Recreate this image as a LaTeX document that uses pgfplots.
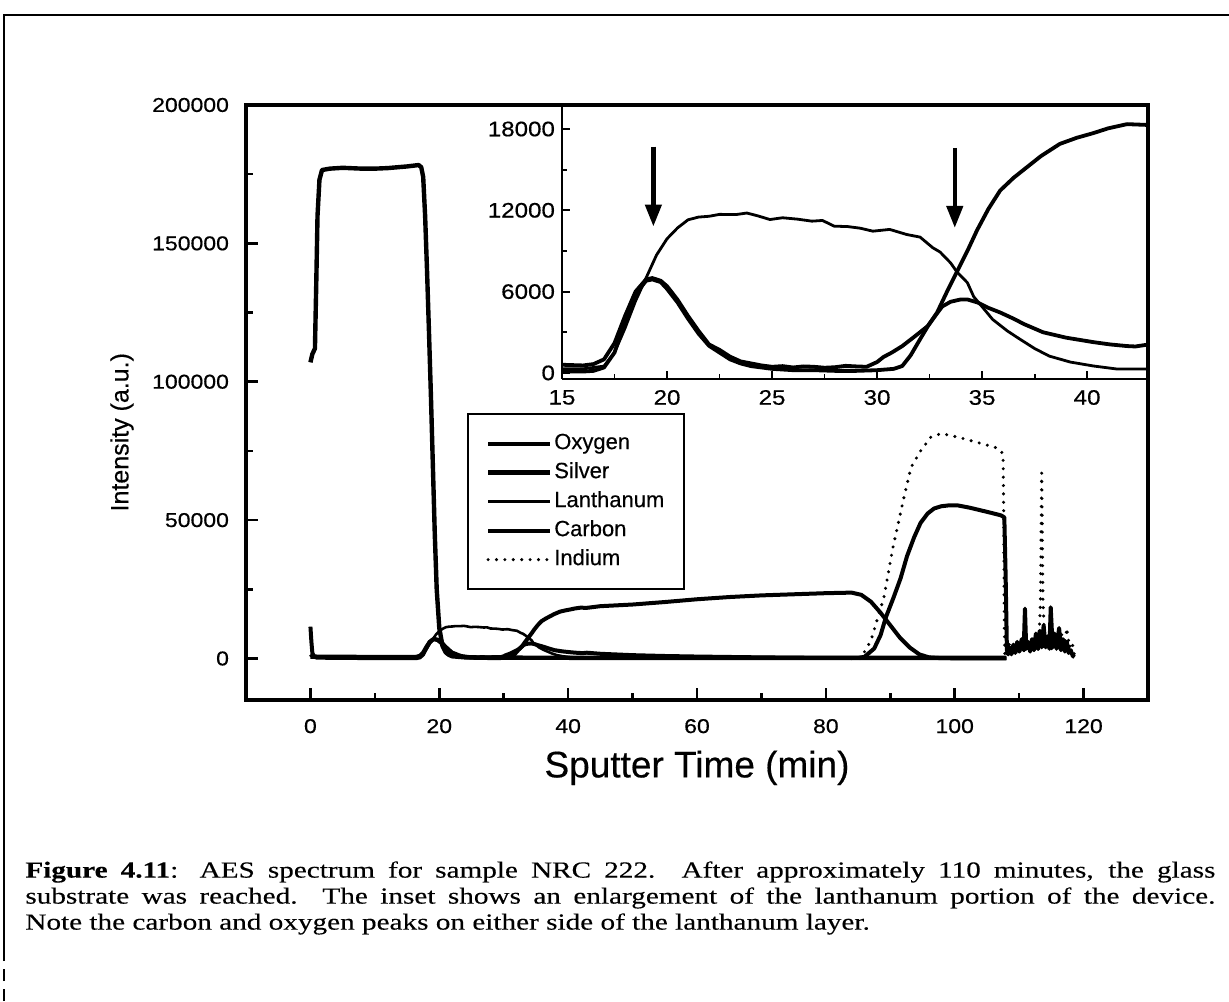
\documentclass[border=0pt]{standalone}
\usepackage{fontspec}
\setmainfont[FakeBold=0.4]{Liberation Sans}
\newfontfamily\capfont[FakeStretch=1.27, FakeBold=0.25]{Liberation Serif}
\newfontfamily\tickfont[FakeStretch=1.15, FakeBold=0.5]{Liberation Sans}
\usepackage{pgfplots}
\usepackage{pgfplotstable}
\pgfplotsset{compat=1.18}
\usetikzlibrary{arrows.meta}

\pgfplotstableread{
x y
0 1500
0.3 900
1 700
5 650
10 600
15 600
16 550
16.5 650
17 1000
17.5 2200
18 4200
18.5 6000
19 6900
19.3 7000
19.7 6800
20 6400
20.5 5400
21 4200
21.5 3100
22 2100
22.5 1700
23 1200
23.5 850
24 700
24.5 550
25 450
25.5 500
26 400
26.5 480
27 450
27.5 380
28 420
28.5 520
29 480
29.5 450
30 800
30.3 1170
30.7 1500
31.2 1980
31.8 2700
32.4 3440
33.1 4900
33.5 5250
33.95 5410
34.3 5420
34.8 5190
35.3 4800
35.86 4460
36.5 4000
37 3600
37.9 3000
39 2600
40.3 2270
41.1 2100
41.9 1980
42.3 1950
42.9 2090
45 1700
50 1200
55 900
60 700
70 400
80 200
85 200
86 600
87.5 3600
88.5 8500
89.3 14800
90.5 22000
91.6 29000
92.6 37000
93.7 43800
94.7 49000
95.8 52400
96.8 54200
97.9 55000
99 55300
100.5 55300
102.3 54500
104.1 53500
105.7 52600
107.2 51700
107.7 51000
107.9 30000
108.1 3000
108.3 1500
108.5 4000
108.8 1500
109.1 5000
109.4 2000
109.7 6000
110.0 2500
110.4 7000
110.7 3000
110.9 18000
111.1 3500
111.4 6000
111.7 2500
112.0 7000
112.3 3000
112.6 9000
112.9 3500
113.2 10000
113.5 4000
113.8 12000
114.1 4000
114.4 8000
114.7 3500
114.9 18500
115.2 4000
115.5 9000
115.8 3500
116.2 11000
116.5 3000
116.8 7000
117.1 2500
117.4 6000
117.7 2000
118.0 3000
118.3 1000
118.6 500
}\oxygen

\pgfplotstableread{
x y
0 107000
0.3 110000
0.7 112000
0.9 135000
1.1 160000
1.4 173000
1.8 176500
3 177000
5 177300
8 177000
10 177000
12 177200
15 177800
16.8 178300
17.2 177500
17.5 174000
17.8 160000
18.1 140000
18.4 118000
18.7 95000
19 70000
19.3 45000
19.6 25000
20 11000
20.5 4500
21 2200
21.5 1300
22 800
24 400
30 300
50 200
108 200
}\silver

\pgfplotstableread{
x y
0 300
15 300
16 300
17 500
17.5 1500
18 3300
18.5 5300
19 7000
19.5 8700
20 9900
20.5 10700
21 11300
21.5 11500
22 11560
22.5 11700
23.3 11690
23.8 11800
24.3 11600
24.9 11320
25.5 11450
26.2 11350
26.9 11200
27.4 11250
27.96 10830
28.6 10800
29.2 10680
29.8 10460
30.6 10590
31.4 10220
32.05 10020
32.65 9240
33 8920
33.5 8120
33.8 7460
34.3 6660
34.6 5630
35.1 4700
35.5 3950
36.2 3100
36.8 2490
37.5 1800
38.2 1240
39.2 800
40.3 510
41.4 290
42.9 290
45 200
50 100
60 50
108 0
}\lanthanum

\pgfplotstableread{
x y
0 11500
0.15 6000
0.3 2000
0.6 600
1 300
5 200
10 150
15 100
16 100
16.5 150
17 400
17.5 1500
18 3800
18.5 5800
19 6800
19.3 6900
19.7 6700
20 6200
20.5 5200
21 4000
21.5 2900
22 2000
22.5 1500
23 1000
23.5 700
24 500
25 300
26 200
27 200
28 150
29 150
30 200
30.8 300
31.2 510
31.6 1300
32.05 2490
32.4 3400
32.86 4460
33.3 5900
33.8 7460
34.3 9000
34.76 10530
35.3 12100
35.86 13460
36.5 14400
37.1 15140
37.8 16000
38.7 16900
39.5 17350
40.3 17700
41 18050
41.9 18360
42.9 18300
45 18900
50 19500
55 20400
60 21400
65 22200
70 22800
75 23200
80 23600
84 23800
85.5 23000
87 20500
88.5 16500
90 12000
91.5 7500
93 4000
94.5 1500
96 400
98 100
108 0
}\carbon

\pgfplotstableread{
x y
84 0
85.4 0
87 6500
89 22000
90.4 40000
92 57000
93.2 69000
94.7 75000
96.3 80000
97.9 81300
100.5 80000
103.6 78000
106.7 76000
107.5 74000
107.6 53500
107.7 10000
107.8 500
108.2 3000
108.6 6000
109 2000
109.5 5000
110 2000
110.5 4000
111 2000
111.5 5000
112 2000
112.5 6000
113 3000
113.3 20000
113.5 67000
113.7 20000
114 4000
114.5 8000
115 3000
115.5 9000
116 4000
116.5 10000
117 3000
117.4 11000
117.8 4000
118.2 6000
118.6 1000
}\indium

\begin{document}
\begin{tikzpicture}
\path[use as bounding box] (0,0) rectangle (614.5pt,500.5pt);
\draw[line width=1.4pt] (2pt,25pt) -- (2pt,493pt) -- (614.5pt,493pt);
\draw[line width=1pt, dash pattern=on 6pt off 4pt] (2pt,0pt) -- (2pt,25pt);

\begin{axis}[at={(123pt,150.5pt)}, anchor=south west, scale only axis,
 width=451pt, height=297.5pt,
 xmin=-10, xmax=130, ymin=-15000, ymax=200000,
 axis line style={line width=1.6pt},
 tick pos=left, tick align=inside,
 xtick={0,20,...,120}, xticklabels={0,20,40,60,80,100,120},
 ytick={0,50000,100000,150000,200000}, yticklabels={0,50000,100000,150000,200000},
 scaled y ticks=false, scaled x ticks=false,
 minor x tick num=1, minor y tick num=1,
 major tick length=6pt, minor tick length=3.5pt,
 every tick/.style={line width=1.3pt, black},
 tick label style={font=\tickfont\fontsize{10}{11}\selectfont},
 xticklabel style={yshift=-6pt},
 yticklabel style={xshift=-5pt},
 xlabel={Sputter Time (min)}, ylabel={Intensity (a.u.)},
 xlabel style={font=\fontsize{18.5}{22}\selectfont, at={(axis description cs:0.5,-0.114)}, anchor=center},
 ylabel style={font=\fontsize{12.5}{15}\selectfont, at={(axis description cs:-0.1375,0.45)}, anchor=center},
 legend style={at={(axis description cs:0.245,0.482)}, anchor=north west, draw=black, line width=0.9pt,
   inner xsep=9pt, inner ysep=8.5pt, row sep=2pt, font=\fontsize{11}{13}\selectfont,
   nodes={inner sep=1pt, text height=8pt, text depth=2.5pt}},
 legend cell align=left,
 legend image code/.code={\draw[#1] (0pt,0pt) -- (31pt,0pt);},
]
\addplot[black, line width=2pt, line join=round] table {\oxygen};
\addlegendentry{Oxygen}
\addplot[black, line width=2.2pt, line join=round] table {\silver};
\addlegendentry{Silver}
\addplot[black, line width=1.3pt, line join=round] table {\lanthanum};
\addlegendentry{Lanthanum}
\addplot[black, line width=2pt, line join=round] table {\carbon};
\addlegendentry{Carbon}
\addplot[black, line width=1.7pt, line cap=round, dash pattern=on 0pt off 4.2pt] table {\indium};
\addlegendentry{Indium}
\end{axis}

\begin{axis}[at={(281pt,311pt)}, anchor=south west, scale only axis,
 width=293pt, height=136.5pt,
 xmin=15, xmax=42.9, ymin=-450, ymax=19700,
 axis x line*=bottom, axis y line*=left,
 axis line style={line width=1.1pt, -},
 tick align=inside,
 xtick={15,20,...,40}, xticklabels={15,20,25,30,35,40},
 ytick={0,6000,12000,18000}, yticklabels={0,6000,12000,18000},
 scaled y ticks=false,
 minor x tick num=1, minor y tick num=1,
 major tick length=4pt, minor tick length=2.5pt,
 every tick/.style={line width=0.9pt, black},
 tick label style={font=\tickfont\fontsize{10.5}{12}\selectfont},
 xticklabel style={yshift=-2pt},
]
\addplot[black, line width=1.9pt, line join=round] table {\oxygen};
\addplot[black, line width=1.4pt, line join=round] table {\lanthanum};
\addplot[black, line width=1.9pt, line join=round] table {\carbon};
\draw[line width=2.2pt, -{Triangle[width=8pt,length=11pt]}] (axis cs:19.35,16700) -- (axis cs:19.35,10800);
\draw[line width=2.2pt, -{Triangle[width=8pt,length=11pt]}] (axis cs:33.7,16600) -- (axis cs:33.7,10700);
\end{axis}

\node[anchor=north west, inner sep=0pt] at (12.5pt,70pt) {\parbox[t]{595pt}{\capfont\fontsize{11.5}{13}\selectfont
\textbf{Figure 4.11}: AES spectrum for sample NRC 222.\ \ After approximately 110 minutes, the glass\linebreak
substrate was reached.\ \ The inset shows an enlargement of the lanthanum portion of the device.\linebreak
Note the carbon and oxygen peaks on either side of the lanthanum layer.}};
\end{tikzpicture}
\end{document}
